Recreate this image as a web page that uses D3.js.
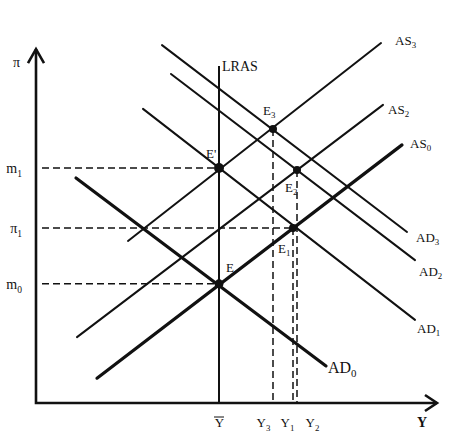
<!DOCTYPE html>
<html>
<head>
<meta charset="utf-8">
<script src="https://cdn.jsdelivr.net/npm/d3@7"></script>
<style>
  body { margin: 0; background: #fff; }
  text { font-family: "Liberation Serif", "DejaVu Serif", serif; fill: #111; }
</style>
</head>
<body>
<div id="chart"></div>
<script>
// Chart values (output Y on x, inflation pi on y, both in 0..100 units)
let curveNames = ['AS3', 'AS2', 'AS0', 'AD3', 'AD2', 'AD1', 'AD0'];
let curveStart = [[23, 45], [10.25, 18.3], [15.25, 6.9], [31.5, 99.4], [33.75, 91.4], [26.75, 81.7], [10, 62.5]];
let curveEnd = [[86.25, 100], [86.75, 82.8], [91.5, 71.7], [92.75, 47.5], [94.75, 39.7], [94.75, 23.1], [72.5, 10.3]];
let curveThick = [false, false, true, false, false, false, true];

let lrasY = 45.75, lrasTop = 93.6;

let pointNames = ['E3', "E'", 'E2', 'E1', 'E'];
let pointY = [59.25, 45.75, 65.25, 64.25, 45.75];
let pointPi = [76.1, 65.3, 64.7, 48.6, 33.1];

let piTicks = [33.1, 48.6, 65.3];
let piTickLabels = [['m', '0'], ['\u03c0', '1'], ['m', '1']];
let yTicks = [45.75, 59.25, 64.25, 65.25];
let yTickLabels = [['Y', ''], ['Y', '3'], ['Y', '1'], ['Y', '2']];

// Margins
let width = 458, height = 433;

const svg = d3.select('#chart')
    .append('svg')
    .attr('width', width)
    .attr('height', height);

let x = d3.scaleLinear().domain([0, 100]).range([36, 436]);
let y = d3.scaleLinear().domain([0, 100]).range([403, 43]);

// label offsets (px) for curve ends, points and crowded x tick labels
let curveLabelOff = [[14, 2], [5, 9], [8, 3], [9, 10], [4, 16], [2, 13], [2, 7]];
let pointLabelOff = [[-10, -14], [-13, -10], [-12, 22], [-15, 25], [7, -12]];
let pointRadius = [4, 5, 4, 4, 4.5];
let yTickShift = [0, -10, -6, 15];

function subLabel(sel, main, sub, size) {
    sel.text(null);
    sel.append('tspan').text(main);
    if (sub) sel.append('tspan').attr('font-size', size * 0.68).attr('dy', size * 0.25).text(sub);
}

// Dashed guide lines
let guides = svg.append('g')
    .attr('stroke', '#111')
    .attr('stroke-width', 1.5)
    .attr('stroke-dasharray', '7,4');

// horizontal: m1 -> E', pi1 -> E1, m0 -> E
[1, 3, 4].forEach(function (i) {
    guides.append('line')
        .attr('x1', x(1.5)).attr('x2', x(pointY[i]))
        .attr('y1', y(pointPi[i])).attr('y2', y(pointPi[i]));
});
// vertical: E3, E1, E2 down to axis
[0, 3, 2].forEach(function (i) {
    guides.append('line')
        .attr('x1', x(pointY[i])).attr('x2', x(pointY[i]))
        .attr('y1', y(pointPi[i])).attr('y2', y(0));
});

// LRAS
svg.append('line')
    .attr('x1', x(lrasY)).attr('x2', x(lrasY))
    .attr('y1', y(0)).attr('y2', y(lrasTop))
    .attr('stroke', '#111').attr('stroke-width', 2);
svg.append('text')
    .attr('x', x(lrasY) + 3).attr('y', y(lrasTop) + 5)
    .attr('font-size', 14)
    .text('LRAS');

// AS / AD curves
let line = d3.line().x(function (d) { return x(d[0]); }).y(function (d) { return y(d[1]); });

curveNames.forEach(function (name, i) {
    svg.append('path')
        .attr('d', line([curveStart[i], curveEnd[i]]))
        .attr('stroke', '#111')
        .attr('stroke-width', curveThick[i] ? 3.2 : 2)
        .attr('stroke-linecap', 'round')
        .attr('fill', 'none');
    let size = name === 'AD0' ? 16 : 13;
    svg.append('text')
        .attr('x', x(curveEnd[i][0]) + curveLabelOff[i][0])
        .attr('y', y(curveEnd[i][1]) + curveLabelOff[i][1])
        .attr('font-size', size)
        .call(subLabel, name.slice(0, 2), name.slice(2), size);
});

// Equilibrium points
pointNames.forEach(function (name, i) {
    svg.append('circle')
        .attr('cx', x(pointY[i])).attr('cy', y(pointPi[i]))
        .attr('r', pointRadius[i])
        .attr('fill', '#111');
    let sub = /\d/.test(name.slice(1)) ? name.slice(1) : '';
    let main = sub ? 'E' : name;
    svg.append('text')
        .attr('x', x(pointY[i]) + pointLabelOff[i][0])
        .attr('y', y(pointPi[i]) + pointLabelOff[i][1])
        .attr('font-size', 13)
        .call(subLabel, main, sub, 13);
});

// AXES (labels only, lines drawn below with arrowheads)
let yAxis = d3.axisLeft(y).tickValues(piTicks).tickSize(0).tickPadding(14).tickFormat('');
let xAxis = d3.axisBottom(x).tickValues(yTicks).tickSize(0).tickPadding(12).tickFormat('');

let gY = svg.append('g').attr('transform', 'translate(' + x(0) + ',0)').call(yAxis);
let gX = svg.append('g').attr('transform', 'translate(0,' + y(0) + ')').call(xAxis);
gY.select('.domain').remove();
gX.select('.domain').remove();

gY.selectAll('.tick text')
    .attr('font-size', 14)
    .attr('font-family', null)
    .attr('dy', '0.35em')
    .each(function (d, i) {
        d3.select(this).call(subLabel, piTickLabels[i][0], piTickLabels[i][1], 14);
    });

gX.selectAll('.tick text')
    .attr('font-size', 13)
    .attr('font-family', null)
    .attr('dy', '0.95em')
    .attr('x', function (d, i) { return yTickShift[i]; })
    .each(function (d, i) {
        d3.select(this).call(subLabel, yTickLabels[i][0], yTickLabels[i][1], 13);
    });

// overline on Y-bar
svg.append('line')
    .attr('x1', x(yTicks[0]) - 5).attr('x2', x(yTicks[0]) + 5)
    .attr('y1', y(0) + 14).attr('y2', y(0) + 14)
    .attr('stroke', '#111').attr('stroke-width', 1);

// axis lines with open arrowheads
let axisG = svg.append('g')
    .attr('stroke', '#111').attr('stroke-width', 2.6)
    .attr('fill', 'none').attr('stroke-linejoin', 'miter');

axisG.append('path')
    .attr('d', line([[0, 98.3], [0, 0], [100.25, 0]]));
axisG.append('path')
    .attr('d', 'M' + (x(0) - 8) + ',' + (y(98.3) + 14) + 'L' + x(0) + ',' + y(98.3) + 'L' + (x(0) + 8) + ',' + (y(98.3) + 14));
axisG.append('path')
    .attr('d', 'M' + (x(100.25) - 12) + ',' + (y(0) - 8) + 'L' + x(100.25) + ',' + y(0) + 'L' + (x(100.25) - 12) + ',' + (y(0) + 8));

svg.append('text').attr('x', 13).attr('y', y(98.3) + 18).attr('font-size', 14).text('\u03c0');
svg.append('text').attr('x', x(100.25) - 20).attr('y', y(0) + 24).attr('font-size', 14).attr('font-weight', 'bold').text('Y');
</script>
</body>
</html>
